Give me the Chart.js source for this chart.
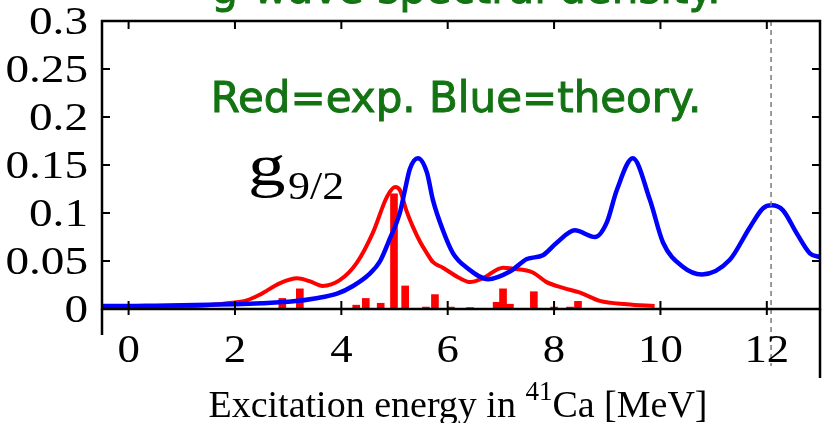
<!DOCTYPE html>
<html><head><meta charset="utf-8">
<script src="https://cdn.jsdelivr.net/npm/chart.js@4.4.1/dist/chart.umd.min.js"></script>
<style>html,body{margin:0;padding:0;background:#fff;}#wrap{width:822px;height:423px;}</style>
</head><body><div id="wrap"><canvas id="c" width="822" height="423"></canvas></div>
<script>
// Axis ticks
const xTicks = [0, 2, 4, 6, 8, 10, 12];
const xTickLabels = ['0', '2', '4', '6', '8', '10', '12'];
const yTicks = [0, 0.05, 0.1, 0.15, 0.2, 0.25, 0.3];
const yTickLabels = ['0', '0.05', '0.1', '0.15', '0.2', '0.25', '0.3'];

// Experimental levels (red bars): energy [MeV], strength
const barE = [2.89, 3.22, 4.28, 4.46, 4.74, 4.99, 5.2, 5.59, 5.76, 6.06, 6.42, 6.92, 7.04, 7.17, 7.62, 8.0, 8.3, 8.45];
const barS = [0.011, 0.021, 0.004, 0.011, 0.006, 0.12, 0.024, 0.002, 0.015, 0.002, 0.0015, 0.007, 0.021, 0.005, 0.018, 0.002, 0.002, 0.008];

// Experimental smoothed spectral density (red line)
const expE = [-0.5, 0, 0.5, 1, 1.5, 1.85, 2.22, 2.47, 2.85, 3.17, 3.4, 3.65, 3.97, 4.29, 4.59, 4.86, 5.01, 5.1, 5.22, 5.35, 5.48, 5.61, 5.72, 5.91, 6.23, 6.42, 6.66, 7.04, 7.22, 7.6, 7.86, 8.17, 8.49, 8.86, 9.37, 9.89];
const expS = [0.002, 0.002, 0.0025, 0.003, 0.004, 0.006, 0.009, 0.015, 0.027, 0.032, 0.029, 0.024, 0.03, 0.048, 0.079, 0.117, 0.127, 0.124, 0.103, 0.085, 0.07, 0.058, 0.049, 0.043, 0.032, 0.028, 0.032, 0.043, 0.042, 0.038, 0.028, 0.022, 0.017, 0.0085, 0.005, 0.003];

// Theoretical spectral density (blue line)
const thE = [-0.5, 0, 0.5, 1, 1.5, 2, 2.5, 3.1, 3.5, 3.92, 4.22, 4.52, 4.73, 4.91, 5.1, 5.2, 5.29, 5.44, 5.61, 5.72, 5.91, 6.1, 6.36, 6.76, 7.17, 7.49, 7.79, 8.05, 8.39, 8.77, 8.99, 9.18, 9.48, 9.8, 10.05, 10.42, 10.78, 11.3, 11.68, 11.93, 12.09, 12.3, 12.56, 12.81, 13];
const thS = [0.003, 0.003, 0.0035, 0.004, 0.0045, 0.005, 0.006, 0.008, 0.011, 0.016, 0.024, 0.036, 0.05, 0.073, 0.1, 0.125, 0.146, 0.157, 0.142, 0.114, 0.082, 0.058, 0.043, 0.031, 0.039, 0.052, 0.056, 0.069, 0.082, 0.075, 0.09, 0.124, 0.157, 0.114, 0.069, 0.044, 0.036, 0.051, 0.085, 0.105, 0.108, 0.103, 0.079, 0.058, 0.054];

const thresholdE = 12.08;

const pts = (xs, ys) => xs.map((x, i) => ({ x: x, y: ys[i] }));
const SERIF = '"Liberation Serif", "Times New Roman", serif';
const GREEN = '#137313';

function stretchText(ctx, text, x, y, sx, align) {
  ctx.save();
  ctx.textAlign = align || 'left';
  ctx.scale(sx, 1);
  ctx.fillText(text, x / sx, y);
  ctx.restore();
}

const frame = {
  id: 'frame',
  afterDraw(chart) {
    const { ctx, chartArea: a, scales: { x, y } } = chart;
    ctx.save();
    // dashed threshold line
    const xd = x.getPixelForValue(thresholdE);
    ctx.strokeStyle = '#7a7a7a'; ctx.lineWidth = 1.5; ctx.setLineDash([5, 4]);
    ctx.beginPath(); ctx.moveTo(xd, a.top); ctx.lineTo(xd, 366); ctx.stroke();
    ctx.setLineDash([]);
    // frame
    ctx.strokeStyle = '#000'; ctx.lineWidth = 2.5;
    ctx.strokeRect(a.left, a.top, a.right - a.left, a.bottom - a.top);
    ctx.beginPath();
    ctx.moveTo(a.left, a.bottom); ctx.lineTo(a.left, 335);
    ctx.moveTo(a.right, a.bottom); ctx.lineTo(a.right, 378);
    ctx.stroke();
    // inward ticks
    ctx.lineWidth = 2;
    ctx.beginPath();
    xTicks.forEach(v => {
      const px = x.getPixelForValue(v);
      ctx.moveTo(px, a.bottom - 8); ctx.lineTo(px, a.bottom + 6);
      ctx.moveTo(px, a.top); ctx.lineTo(px, a.top + 8);
    });
    yTicks.forEach(v => {
      const py = y.getPixelForValue(v);
      ctx.moveTo(a.left, py); ctx.lineTo(a.left + 8, py);
      ctx.moveTo(a.right, py); ctx.lineTo(a.right - 8, py);
    });
    ctx.stroke();

    // tick labels
    ctx.fillStyle = '#000';
    ctx.textBaseline = 'alphabetic';
    ctx.font = '40px ' + SERIF;
    yTicks.forEach((v, i) => {
      const py = y.getPixelForValue(v);
      stretchText(ctx, yTickLabels[i], 88, py + 13, 1.18, 'right');
    });
    xTicks.forEach((v, i) => {
      const px = x.getPixelForValue(v);
      stretchText(ctx, xTickLabels[i], px, 362, 1.12, 'center');
    });

    // axis title with superscript
    const f1 = '38px ' + SERIF, f2 = '27px ' + SERIF;
    const p1 = 'Excitation energy in ', sup = '41', p2 = 'Ca [MeV]';
    ctx.font = f1; const w1 = ctx.measureText(p1).width, w3 = ctx.measureText(p2).width;
    ctx.font = f2; const w2 = ctx.measureText(sup).width;
    let sx = 458 - (w1 + w2 + w3) / 2;
    const by = 417;
    ctx.textAlign = 'left';
    ctx.font = f1; ctx.fillText(p1, sx, by); sx += w1;
    ctx.font = f2; ctx.fillText(sup, sx, by - 17); sx += w2;
    ctx.font = f1; ctx.fillText(p2, sx, by);

    // g9/2 label
    ctx.font = '60px ' + SERIF;
    stretchText(ctx, 'g', 248, 185, 1.25, 'left');
    ctx.font = '40px ' + SERIF;
    stretchText(ctx, '9/2', 288, 199, 1.1, 'left');

    // green annotations
    ctx.fillStyle = GREEN; ctx.strokeStyle = GREEN; ctx.lineWidth = 0.9;
    ctx.font = '42px "DejaVu Sans"';
    ctx.textAlign = 'center';
    ctx.fillText('g-wave spectral density.', 466, 3);
    ctx.strokeText('g-wave spectral density.', 466, 3);
    ctx.fillText('Red=exp. Blue=theory.', 456, 112);
    ctx.strokeText('Red=exp. Blue=theory.', 456, 112);
    ctx.restore();
  }
};

new Chart(document.getElementById('c'), {
  type: 'bar',
  data: {
    datasets: [
      { type: 'line', label: 'theory', data: pts(thE, thS), borderColor: '#0000ff', borderWidth: 4.5, pointRadius: 0, cubicInterpolationMode: 'monotone', fill: false, order: 1 },
      { type: 'line', label: 'exp', data: pts(expE, expS), borderColor: '#ff0000', borderWidth: 4, pointRadius: 0, cubicInterpolationMode: 'monotone', fill: false, order: 2 },
      { type: 'bar', label: 'exp levels', data: pts(barE, barS), backgroundColor: '#ff0000', barThickness: 7, grouped: false, order: 3 }
    ]
  },
  options: {
    responsive: false, animation: false, devicePixelRatio: 1,
    layout: { padding: { top: 21, right: 2, left: 0, bottom: 0 } },
    plugins: { legend: { display: false }, tooltip: { enabled: false }, title: { display: false } },
    scales: {
      x: {
        type: 'linear', min: -0.5, max: 13, offset: false,
        grid: { display: false }, border: { display: false },
        afterBuildTicks: s => { s.ticks = xTicks.map(v => ({ value: v })); },
        afterFit: s => { s.height = 114; },
        ticks: { display: false }
      },
      y: {
        type: 'linear', min: 0, max: 0.3,
        grid: { display: false }, border: { display: false },
        afterBuildTicks: s => { s.ticks = yTicks.map(v => ({ value: v })); },
        afterFit: s => { s.width = 102; },
        ticks: { display: false }
      }
    }
  },
  plugins: [frame]
});
</script>
</body></html>
